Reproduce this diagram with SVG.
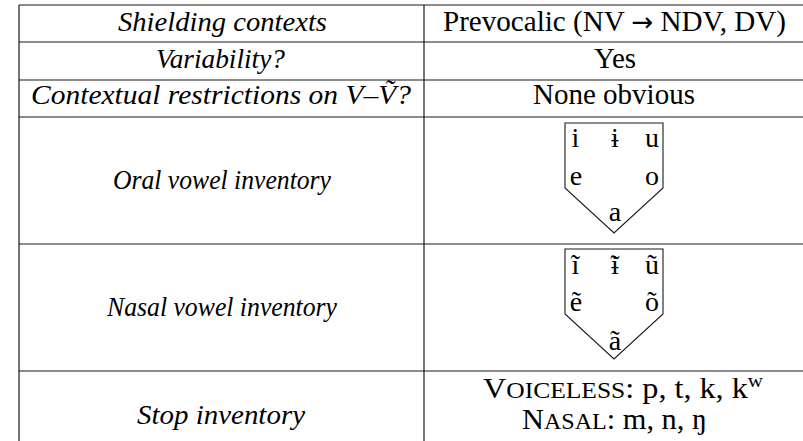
<svg xmlns="http://www.w3.org/2000/svg" width="803" height="441" viewBox="0 0 803 441">
<style>
.rule{stroke:#1a1a1a;stroke-width:1.2;fill:none}
.pent{stroke:#1a1a1a;stroke-width:1.1;fill:none}
.l{font-family:"Liberation Serif","Times New Roman",serif;font-size:28px;font-style:italic;text-anchor:middle;fill:#000}
.r{font-family:"Liberation Serif","Times New Roman",serif;font-size:29px;text-anchor:middle;fill:#000}
.v{font-family:"Liberation Serif","Times New Roman",serif;font-size:28px;text-anchor:middle;fill:#000}
.arr{font-family:"DejaVu Sans",sans-serif;font-size:26px}
.sc{font-size:23px}
.sup{font-size:19px}
</style>
<rect width="803" height="441" fill="#fff"/>
<g id="grid">
<line class="rule" x1="19" y1="5" x2="803" y2="5"/>
<line class="rule" x1="19" y1="42" x2="803" y2="42"/>
<line class="rule" x1="19" y1="80" x2="803" y2="80"/>
<line class="rule" x1="19" y1="117" x2="803" y2="117"/>
<line class="rule" x1="19" y1="244" x2="803" y2="244"/>
<line class="rule" x1="19" y1="371" x2="803" y2="371"/>
<line class="rule" x1="19" y1="5" x2="19" y2="441"/>
<line class="rule" x1="424" y1="5" x2="424" y2="441"/>
</g>
<g id="row-header">
<text class="l" x="222.5" y="31" textLength="209" lengthAdjust="spacingAndGlyphs">Shielding contexts</text>
<text class="r" x="614.5" y="31" textLength="343" lengthAdjust="spacingAndGlyphs">Prevocalic (NV <tspan class="arr">→</tspan> NDV, DV)</text>
</g>
<g id="row-variability">
<text class="l" x="220.5" y="68" textLength="129" lengthAdjust="spacingAndGlyphs">Variability?</text>
<text class="r" x="615" y="68">Yes</text>
</g>
<g id="row-contextual">
<text class="l" x="221" y="104" textLength="380" lengthAdjust="spacingAndGlyphs">Contextual restrictions on V–Ṽ?</text>
<text class="r" x="614" y="104">None obvious</text>
</g>
<g id="row-oral">
<text class="l" x="222" y="189" textLength="218" lengthAdjust="spacingAndGlyphs">Oral vowel inventory</text>
<polygon class="pent" points="565,123 663,123 663,188 614,233 565,188"/>
<text class="v" x="575.5" y="147">i</text>
<text class="v" x="615" y="147">ɨ</text>
<text class="v" x="652" y="147">u</text>
<text class="v" x="576" y="185">e</text>
<text class="v" x="652" y="185">o</text>
<text class="v" x="615" y="221">a</text>
</g>
<g id="row-nasal">
<text class="l" x="222" y="316" textLength="230" lengthAdjust="spacingAndGlyphs">Nasal vowel inventory</text>
<polygon class="pent" points="565,249 663,249 663,314 614,359 565,314"/>
<text class="v" x="575.5" y="274">ĩ</text>
<text class="v" x="615" y="274">ɨ</text>
<text class="v" x="615" y="274">˜</text>
<text class="v" x="652" y="274">ũ</text>
<text class="v" x="576" y="311">ẽ</text>
<text class="v" x="652" y="311">õ</text>
<text class="v" x="615" y="350">ã</text>
</g>
<g id="row-stop">
<text class="l" x="221" y="424" textLength="168" lengthAdjust="spacingAndGlyphs">Stop inventory</text>
<text class="r" x="623" y="398" textLength="280" lengthAdjust="spacingAndGlyphs">V<tspan class="sc">OICELESS</tspan>: p, t, k, k<tspan class="sup" dy="-11">w</tspan></text>
<text class="r" x="614.5" y="429" textLength="185" lengthAdjust="spacingAndGlyphs">N<tspan class="sc">ASAL</tspan>: m, n, ŋ</text>
</g>
</svg>
